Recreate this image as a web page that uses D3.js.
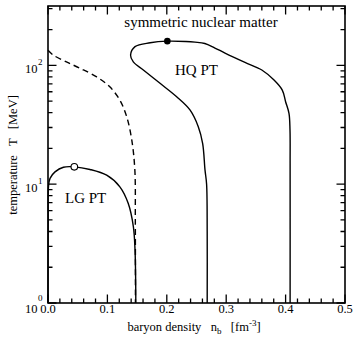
<!DOCTYPE html>
<html>
<head>
<meta charset="utf-8">
<script src="https://cdn.jsdelivr.net/npm/d3@7"></script>
<style>
  html, body { margin: 0; padding: 0; background: #fff; }
  svg { display: block; }
  text { font-family: "Liberation Serif", "Times New Roman", serif; fill: #000; }
</style>
</head>
<body>
<svg id="chart" width="355" height="342"></svg>
<script>
// Phase boundaries of symmetric nuclear matter: [baryon density (fm^-3), temperature (MeV)]
const lgBoundary = [
  [0.0, 1], [0.0003, 5], [0.0008, 9.5], [0.0034, 11.2], [0.0118, 12.7], [0.026, 13.9],
  [0.0443, 14.0], [0.0707, 13.3], [0.0988, 11.9], [0.121, 9.5], [0.135, 6.9],
  [0.1437, 4.4], [0.1465, 2.8], [0.1476, 1.5], [0.1478, 1]
];
const dashedBoundary = [
  [0.0, 134], [0.009, 122], [0.031, 107], [0.054, 94.6], [0.082, 80], [0.104, 66],
  [0.121, 51], [0.1325, 37], [0.141, 23.6], [0.1462, 13.2], [0.1470, 5], [0.1472, 1]
];
const hqBoundary = [
  [0.268, 1], [0.268, 4], [0.267, 10], [0.2643, 13.2], [0.2604, 22], [0.253, 30.5],
  [0.239, 42.2], [0.2166, 54.5], [0.1886, 70.7], [0.1605, 91.5], [0.1436, 107],
  [0.139, 122], [0.1465, 144], [0.172, 155], [0.2009, 160], [0.232, 159],
  [0.2475, 157], [0.264, 153], [0.281, 140], [0.298, 127], [0.3316, 106],
  [0.36, 91.5], [0.3805, 75.3], [0.3944, 62], [0.400, 49.5], [0.4057, 39.5],
  [0.4074, 28.6], [0.4076, 15], [0.4076, 1]
];
const lgCritical = [0.0443, 14.0];   // open circle
const hqCritical = [0.2009, 160];    // filled circle

const xTicks = [0.0, 0.1, 0.2, 0.3, 0.4, 0.5];
const xTickLabels = ["0.0", "0.1", "0.2", "0.3", "0.4", "0.5"];
const yDecades = [1, 10, 100];
const yExponents = ["0", "1", "2"];

const svg = d3.select("#chart");
const padL = 48, padR = 345, padT = 6, padB = 303;

const x = d3.scaleLinear().domain([0, 0.5]).range([padL, padR]);
const y = d3.scaleLog().domain([1, Math.pow(10, 2.5)]).range([padB, padT]);

// minor ticks
const xMinor = d3.range(0, 0.5001, 0.02).filter(v => Math.abs(v * 10 - Math.round(v * 10)) > 1e-6);
const yMinor = [];
[1, 10, 100].forEach(d => { for (let k = 2; k <= 9; k++) { const v = d * k; if (v <= Math.pow(10, 2.5)) yMinor.push(v); } });

const majorLen = 8.5, minorLen = 4.5;

// all frame ticks point inward; collected into one path
const tickPath = d3.path();
const xTick = (v, len) => {
  tickPath.moveTo(x(v), padB); tickPath.lineTo(x(v), padB - len);
  tickPath.moveTo(x(v), padT); tickPath.lineTo(x(v), padT + len);
};
const yTick = (v, len) => {
  tickPath.moveTo(padL, y(v)); tickPath.lineTo(padL + len, y(v));
  tickPath.moveTo(padR, y(v)); tickPath.lineTo(padR - len, y(v));
};
xTicks.forEach(v => xTick(v, majorLen));
xMinor.forEach(v => xTick(v, minorLen));
yDecades.forEach(v => yTick(v, majorLen));
yMinor.forEach(v => yTick(v, minorLen));
svg.append("path").attr("d", tickPath.toString())
  .attr("fill", "none").attr("stroke", "#000").attr("stroke-width", 1.3);

// curves
const line = d3.line().x(d => x(d[0])).y(d => y(d[1])).curve(d3.curveCatmullRom.alpha(0.5));
const curves = svg.append("g").attr("fill", "none").attr("stroke", "#000").attr("stroke-width", 1.4);
curves.append("path").attr("d", line(lgBoundary));
curves.append("path").attr("d", line(hqBoundary));
curves.append("path").attr("d", line(dashedBoundary)).attr("stroke-dasharray", "6,4");

// frame
svg.append("rect").attr("x", padL).attr("y", padT).attr("width", padR - padL).attr("height", padB - padT)
  .attr("fill", "none").attr("stroke", "#000").attr("stroke-width", 1.6);

// critical points
svg.append("circle").attr("cx", x(lgCritical[0])).attr("cy", y(lgCritical[1])).attr("r", 3.3)
  .attr("fill", "#fff").attr("stroke", "#000").attr("stroke-width", 1.1);
svg.append("circle").attr("cx", x(hqCritical[0])).attr("cy", y(hqCritical[1])).attr("r", 3.3)
  .attr("fill", "#000");

// x tick labels
xTicks.forEach((v, i) => {
  svg.append("text").attr("x", x(v)).attr("y", 313).attr("text-anchor", "middle")
    .attr("font-size", 12.5).text(xTickLabels[i]);
});
// y tick labels 10^n
yDecades.forEach((v, i) => {
  svg.append("text").attr("x", 37.5).attr("y", y(v) + (i === 0 ? 9.5 : 7.5)).attr("text-anchor", "end")
    .attr("font-size", 12.5).text("10");
  svg.append("text").attr("x", 38).attr("y", y(v) + (i === 0 ? -2 : -0.5))
    .attr("font-size", 9).text(yExponents[i]);
});

// axis titles
const xt = svg.append("text").attr("x", 194).attr("y", 331).attr("text-anchor", "middle").attr("font-size", 12.5)
  .attr("xml:space", "preserve");
xt.append("tspan").text("baryon density   n");
xt.append("tspan").attr("font-size", 9).attr("dy", 3).text("b");
xt.append("tspan").attr("dy", -3).text("   [fm");
xt.append("tspan").attr("font-size", 9).attr("dy", -5).text("-3");
xt.append("tspan").attr("dy", 5).text("]");

svg.append("text").attr("transform", "translate(17,155) rotate(-90)").attr("text-anchor", "middle")
  .attr("font-size", 12.5).attr("xml:space", "preserve").text("temperature   T   [MeV]");

// annotations
svg.append("text").attr("x", 201).attr("y", 27).attr("text-anchor", "middle").attr("font-size", 15)
  .text("symmetric nuclear matter");
svg.append("text").attr("x", 175).attr("y", 75).attr("font-size", 15).text("HQ PT");
svg.append("text").attr("x", 65).attr("y", 203).attr("font-size", 15).text("LG PT");
</script>
</body>
</html>
